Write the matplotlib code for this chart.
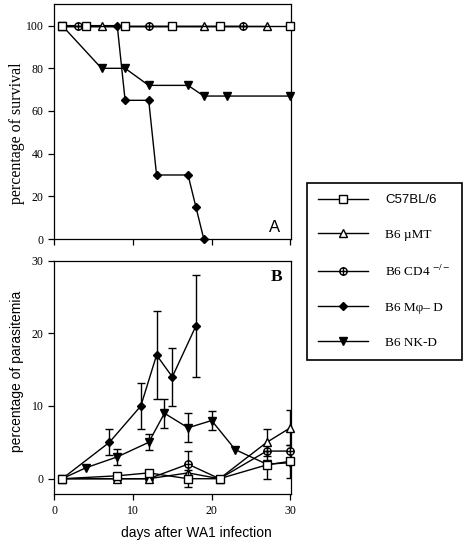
import numpy as np
import matplotlib
matplotlib.use("Agg")
import matplotlib.pyplot as plt
from matplotlib.path import Path

# ---- data ----
labels = ["C57BL/6", "B6 \u00b5MT", "B6 CD4 $^{-/-}$", "B6 M\u03c6\u2013 D", "B6 NK-D"]

# panel A: percentage of survival
a_sq_days = [1, 4, 9, 15, 21, 30]
a_sq_vals = [100, 100, 100, 100, 100, 100]
a_tri_days = [1, 6, 19, 27]
a_tri_vals = [100, 100, 100, 100]
a_cd4_days = [1, 3, 12, 24]
a_cd4_vals = [100, 100, 100, 100]
a_mph_days = [1, 8, 9, 12, 13, 17, 18, 19]
a_mph_vals = [100, 100, 65, 65, 30, 30, 15, 0]
a_nk_days = [1, 6, 9, 12, 17, 19, 22, 30]
a_nk_vals = [100, 80, 80, 72, 72, 67, 67, 67]

# panel B: percentage of parasitemia (mean, error)
b_sq_days = [1, 8, 12, 17, 21, 27, 30]
b_sq_vals = [0, 0.4, 0.8, 0, 0, 1.9, 2.4]
b_sq_err = [0, 0, 0, 1.2, 0, 1.9, 2.3]
b_tri_days = [1, 8, 12, 17, 21, 27, 30]
b_tri_vals = [0, 0, 0, 0.8, 0, 5, 7]
b_tri_err = [0, 0, 0, 0, 0, 1.9, 2.4]
b_cd4_days = [1, 8, 12, 17, 21, 27, 30]
b_cd4_vals = [0, 0, 0, 2, 0, 3.8, 3.8]
b_cd4_err = [0, 0, 0, 1.8, 0, 0, 0]
b_mph_days = [1, 7, 11, 13, 15, 18]
b_mph_vals = [0, 5, 10, 17, 14, 21]
b_mph_err = [0, 1.8, 3.1, 6, 4, 7]
b_nk_days = [1, 4, 8, 12, 14, 17, 20, 23, 27, 30]
b_nk_vals = [0, 1.5, 3, 5, 9, 7, 8, 4, 2, 2.2]
b_nk_err = [0, 0, 1.1, 1.1, 2, 2, 1.3, 0, 0, 0]

SERIF = "Liberation Serif"
SANS = "Liberation Sans"
plt.rcParams["font.family"] = SERIF
plt.rcParams["mathtext.fontset"] = "stix"

# circle with a plus inside
oplus = Path.make_compound_path(
    Path.unit_circle(),
    Path([(-1, 0), (1, 0)], [Path.MOVETO, Path.LINETO]),
    Path([(0, -1), (0, 1)], [Path.MOVETO, Path.LINETO]),
)

styles = [
    dict(marker="s", ms=5.6, mfc="white", mec="black", mew=1.0),
    dict(marker="^", ms=5.6, mfc="white", mec="black", mew=1.0),
    dict(marker=oplus, ms=5.3, mfc="white", mec="black", mew=1.0),
    dict(marker="D", ms=4.5, mfc="black", mec="black", mew=1.0),
    dict(marker="v", ms=6.4, mfc="black", mec="black", mew=1.0),
]
zorders = [10, 9, 8, 7, 6]

fig = plt.figure(figsize=(4.67, 5.41), dpi=100)
W, H = 467.0, 541.0
axA = fig.add_axes([54.3 / W, 1 - 239 / H, (291.5 - 54.3) / W, (239 - 4.3) / H])
axB = fig.add_axes([54.3 / W, 1 - 494 / H, (291.5 - 54.3) / W, (494 - 260.5) / H])

for ax in (axA, axB):
    for s in ax.spines.values():
        s.set_linewidth(0.9)
    ax.tick_params(direction="out", length=4.3, width=0.9, labelsize=8.5,
                   top=False, right=False)
    ax.set_xlim(0, 30.15)
    ax.set_xticks([0, 10, 20, 30])

# ---- panel A ----
A = [(a_sq_days, a_sq_vals), (a_tri_days, a_tri_vals), (a_cd4_days, a_cd4_vals),
     (a_mph_days, a_mph_vals), (a_nk_days, a_nk_vals)]
for (d, v), st, z in zip(A, styles, zorders):
    axA.plot(d, v, color="black", lw=1.0, zorder=z, clip_on=False, **st)
axA.set_ylim(0, 110)
axA.set_yticks([0, 20, 40, 60, 80, 100])
axA.set_xticklabels([])
axA.set_ylabel("percentage of survival", fontsize=11.5, family=SERIF,
               va="center")
axA.yaxis.set_label_coords(-0.157, 0.45)
axA.text(0.93, 5.2, "A", transform=axA.get_yaxis_transform(),
         fontsize=12, family=SANS, ha="center", va="center")

# ---- panel B ----
B = [(b_sq_days, b_sq_vals, b_sq_err), (b_tri_days, b_tri_vals, b_tri_err),
     (b_cd4_days, b_cd4_vals, b_cd4_err), (b_mph_days, b_mph_vals, b_mph_err),
     (b_nk_days, b_nk_vals, b_nk_err)]
handles = []
for (d, v, e), st, z, lab in zip(B, styles, zorders, labels):
    d = np.array(d, float)
    v = np.array(v, float)
    e = np.array(e, float)
    m = e > 0
    if m.any():
        axB.errorbar(d[m], v[m], yerr=e[m], fmt="none", ecolor="black",
                     elinewidth=1.0, capsize=3.0, capthick=1.0, zorder=z - 0.5)
    ln, = axB.plot(d, v, color="black", lw=1.0, zorder=z, clip_on=False,
                   label=lab, **st)
    handles.append(ln)
axB.set_ylim(-2.1, 30)
axB.set_yticks([0, 10, 20, 30])
axB.set_ylabel("percentage of parasitemia", fontsize=10, family=SANS,
               va="center")
axB.yaxis.set_label_coords(-0.157, 0.525)
axB.set_xlabel("days after WA1 infection", fontsize=10, family=SANS)
axB.xaxis.set_label_coords(0.6, -0.135)
axB.text(0.935, 27.7, "B", transform=axB.get_yaxis_transform(),
         fontsize=12.5, family=SERIF, weight="bold", ha="center", va="center")

leg = fig.legend(handles, labels, loc="upper left",
                 bbox_to_anchor=(306.7 / W, 1 - 182.7 / H),
                 bbox_transform=fig.transFigure, frameon=True, fancybox=False,
                 edgecolor="black", framealpha=1, borderaxespad=0,
                 handlelength=3.8, handletextpad=1.3, labelspacing=1.72,
                 borderpad=0.85, prop={"family": SERIF, "size": 9.5})
leg.get_frame().set_linewidth(1.2)
leg.get_texts()[0].set_family(SANS)

fig.savefig("out.png", dpi=100)
